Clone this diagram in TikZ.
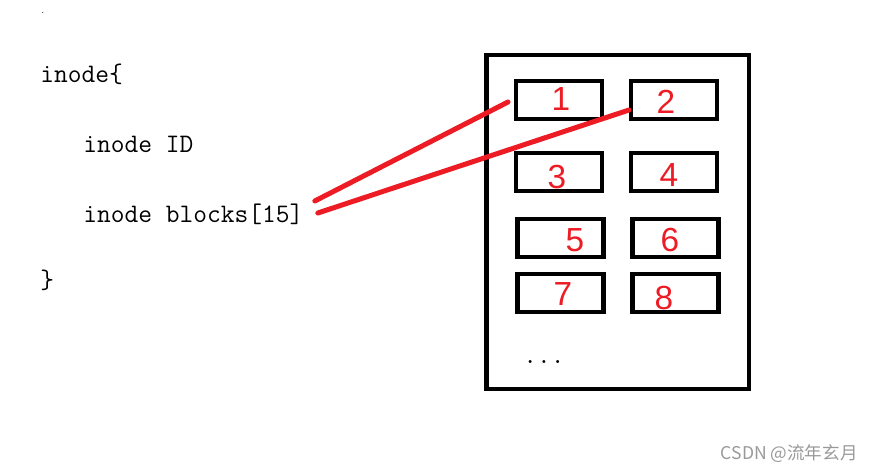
\documentclass[tikz,border=0pt]{standalone}
\usepackage{fontspec}
\usepackage{xcolor}
\usetikzlibrary{positioning, calc}
\newfontfamily\cjk{Noto Sans CJK SC}
\newfontfamily\handfont{Liberation Sans}
\definecolor{paintred}{RGB}{237,28,36}
\newcommand{\codefont}{\fontsize{15.2}{17}\selectfont\ttfamily}

\begin{document}
\begin{tikzpicture}[
  code/.style={font=\codefont, anchor=base west, inner sep=0pt},
  slot/.style={draw, line width=2.3pt, minimum width=1.72cm, minimum height=0.76cm, inner sep=0pt},
  num/.style={text=paintred, font=\handfont\fontsize{19}{20}\selectfont, inner sep=0pt},
  link/.style={paintred, line width=2.85pt, line cap=round}
]
\useasboundingbox (0,0) rectangle (17.42,-9.44);

% ---------- code text ----------
\node[inner sep=0pt, font=\tiny] (dot) at (0.86,-0.26) {.};
\node[code] (open) at (0.80,-1.64) {inode\{};
\node[code] (id)   at (1.66,-3.05) {inode ID};
\node[code] (blk)  at (1.66,-4.44) {inode blocks[15]};
\node[code] (close) at (0.80,-5.77) {\}};

% ---------- block table ----------
\node[draw, line width=2.3pt, minimum width=5.25cm, minimum height=6.68cm, inner sep=0pt]
  (tbl) at (12.355,-4.44) {};
\node[slot] (b1) at (11.18,-2.00) {};
\node[slot] (b2) at (13.48,-2.00) {};
\node[slot] (b3) at (11.18,-3.44) {};
\node[slot] (b4) at (13.48,-3.44) {};
\node[slot] (b5) at (11.21,-4.76) {};
\node[slot] (b6) at (13.51,-4.76) {};
\node[slot] (b7) at (11.21,-5.86) {};
\node[slot] (b8) at (13.51,-5.86) {};

% numbers (hand written in the original)
\node[num] (n1) at (11.22,-1.98) {1};
\node[num] (n2) at (13.32,-2.04) {2};
\node[num] (n3) at (11.14,-3.54) {3};
\node[num] (n4) at (13.38,-3.50) {4};
\node[num] (n5) at (11.50,-4.80) {5};
\node[num] (n6) at (13.40,-4.80) {6};
\node[num] (n7) at (11.26,-5.88) {7};
\node[num] (n8) at (13.28,-5.96) {8};

\node[code] (dots) at (10.46,-7.26) {...};

% ---------- links ----------
\coordinate (s1) at ($(blk.base east)+(0.22,0.42)$);
\coordinate (s2) at ($(blk.base east)+(0.28,0.18)$);
\coordinate (e1) at ($(b1.west)+(-0.12,-0.04)$);
\coordinate (e2) at ($(b2.west)+(0,-0.20)$);
\draw[link] (s1) -- (e1);
\draw[link] (s2) -- (e2);

% ---------- watermark ----------
\node[anchor=base east, inner sep=0pt, text=gray!80, font=\cjk\fontsize{10}{12}\selectfont]
  (mark) at (17.16,-9.18) {CSDN @流年玄月};
\end{tikzpicture}
\end{document}
